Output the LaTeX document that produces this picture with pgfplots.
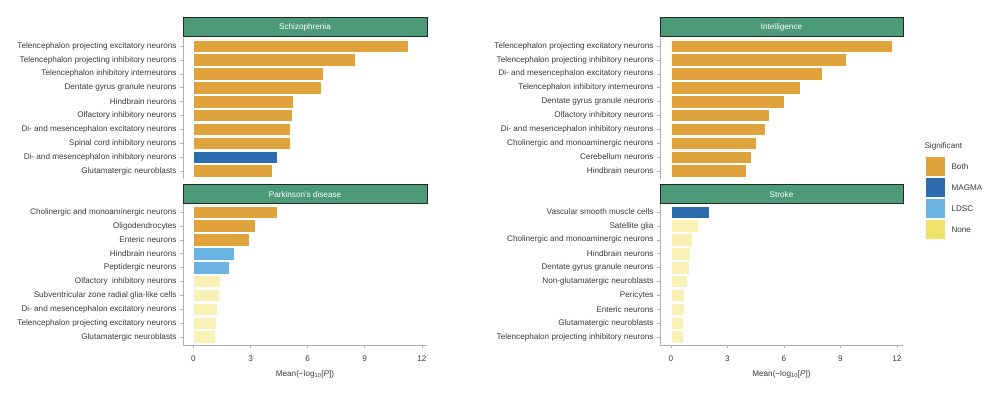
\documentclass[border=0pt]{standalone}
\usepackage{fontspec}
\setmainfont{Liberation Sans}
\usepackage{pgfplots}
\pgfplotsset{compat=1.18}
\definecolor{cboth}{HTML}{E0A23A}
\definecolor{cmagma}{HTML}{2B6DAE}
\definecolor{cldsc}{HTML}{6BB3E3}
\definecolor{cnone}{HTML}{F0E26A}
\definecolor{cnonebar}{HTML}{F8F0B5}
\definecolor{cstrip}{HTML}{4C9A77}
\definecolor{cstripborder}{HTML}{1F2A24}
\definecolor{ctext}{HTML}{3A3A3A}
\definecolor{cspine}{HTML}{B0B0B0}
\newcommand{\fs}{\fontsize{8.15}{9}\selectfont}
\pgfplotsset{
  panel/.style={
    scale only axis, width=244pt, height=141pt,
    xmin=-0.55, xmax=12.27, ymin=0.42, ymax=10.58,
    y dir=reverse, ytick={1,...,10},
    tick align=outside, major tick length=3pt,
    tick style={color=cspine, line width=0.6pt},
    axis line style={draw=cspine, line width=0.8pt, -},
    ticklabel style={font=\fs, text=ctext},
    xticklabel style={yshift=-4pt},
    /pgf/number format/assume math mode=true,
    xtick={0,3,6,9,12},
    xbar, bar shift=0pt, bar width=0.9,
    every axis plot/.append style={draw=white, line width=0.6pt},
    clip=false,
  },
  toppanel/.style={panel, axis y line*=left, axis x line=none},
  botpanel/.style={panel, axis lines*=left,
    xlabel={Mean(−log\textsubscript{10}[\textit{P}])},
    xlabel style={font=\fs, text=ctext, yshift=-2pt}},
}
\newcommand{\strip}[4]{% x0, x1, ytop, label
  \filldraw[fill=cstrip, draw=cstripborder, line width=1pt] (#1pt,#3pt) rectangle (#2pt,#3pt-19pt);
  \node[text=white, font=\fs] at ({(#1pt+#2pt)/2},#3pt-9.5pt) {#4};
}
\begin{document}
\begin{tikzpicture}
\useasboundingbox (0,0) rectangle (1000pt,396pt);
% Schizophrenia
\begin{axis}[toppanel, at={(183pt,217pt)}, anchor=south west,
  yticklabels={Telencephalon projecting excitatory neurons, Telencephalon projecting inhibitory neurons, Telencephalon inhibitory interneurons, Dentate gyrus granule neurons, Hindbrain neurons, Olfactory inhibitory neurons, Di- and mesencephalon excitatory neurons, Spinal cord inhibitory neurons, Di- and mesencephalon inhibitory neurons, Glutamatergic neuroblasts}]
\addplot[fill=cboth] coordinates {(11.27,1) (8.49,2) (6.83,3) (6.74,4) (5.24,5) (5.17,6) (5.10,7) (5.08,8) (4.12,10)};
\addplot[fill=cmagma] coordinates {(4.42,9)};
\end{axis}
% Parkinson's
\begin{axis}[botpanel, at={(183pt,51pt)}, anchor=south west,
  yticklabels={Cholinergic and monoaminergic neurons, Oligodendrocytes, Enteric neurons, Hindbrain neurons, Peptidergic neurons, Olfactory\ \ inhibitory neurons, Subventricular zone radial glia-like cells, Di- and mesencephalon excitatory neurons, Telencephalon projecting excitatory neurons, Glutamatergic neuroblasts}]
\addplot[fill=cboth] coordinates {(4.38,1) (3.26,2) (2.93,3)};
\addplot[fill=cldsc] coordinates {(2.12,4) (1.86,5)};
\addplot[fill=cnonebar] coordinates {(1.42,6) (1.37,7) (1.26,8) (1.19,9) (1.16,10)};
\end{axis}
% Intelligence
\begin{axis}[toppanel, at={(660pt,217pt)}, anchor=south west, width=243pt,
  xmin=-0.58, xmax=12.32,
  yticklabels={Telencephalon projecting excitatory neurons, Telencephalon projecting inhibitory neurons, Di- and mesencephalon excitatory neurons, Telencephalon inhibitory interneurons, Dentate gyrus granule neurons, Olfactory inhibitory neurons, Di- and mesencephalon inhibitory neurons, Cholinergic and monoaminergic neurons, Cerebellum neurons, Hindbrain neurons}]
\addplot[fill=cboth] coordinates {(11.77,1) (9.33,2) (8.04,3) (6.87,4) (6.00,5) (5.24,6) (5.03,7) (4.55,8) (4.25,9) (4.00,10)};
\end{axis}
% Stroke
\begin{axis}[botpanel, at={(660pt,51pt)}, anchor=south west, width=243pt,
  xmin=-0.58, xmax=12.32,
  yticklabels={Vascular smooth muscle cells, Satellite glia, Cholinergic and monoaminergic neurons, Hindbrain neurons, Dentate gyrus granule neurons, Non-glutamatergic neuroblasts, Pericytes, Enteric neurons, Glutamatergic neuroblasts, Telencephalon projecting inhibitory neurons}]
\addplot[fill=cmagma] coordinates {(2.02,1)};
\addplot[fill=cnonebar] coordinates {(1.45,2) (1.13,3) (1.03,4) (0.99,5) (0.85,6) (0.73,7) (0.73,8) (0.67,9) (0.65,10)};
\end{axis}
% strips
\strip{183}{427}{378}{Schizophrenia}
\strip{183}{427}{211}{Parkinson's disease}
\strip{660}{903}{378}{Intelligence}
\strip{660}{903}{211}{Stroke}
% legend
\node[anchor=west, text=ctext, font=\fs] at (921pt,250pt) {Significant};
\fill[cboth] (926pt,239pt) rectangle (945pt,220pt);
\fill[cmagma] (926pt,218pt) rectangle (945pt,199pt);
\fill[cldsc] (926pt,197pt) rectangle (945pt,178pt);
\fill[cnone] (926pt,176pt) rectangle (945pt,157pt);
\node[anchor=west, text=ctext, font=\fs] at (948pt,229.5pt) {Both};
\node[anchor=west, text=ctext, font=\fs] at (948pt,208.5pt) {MAGMA};
\node[anchor=west, text=ctext, font=\fs] at (948pt,187.5pt) {LDSC};
\node[anchor=west, text=ctext, font=\fs] at (948pt,166.5pt) {None};
\end{tikzpicture}
\end{document}
